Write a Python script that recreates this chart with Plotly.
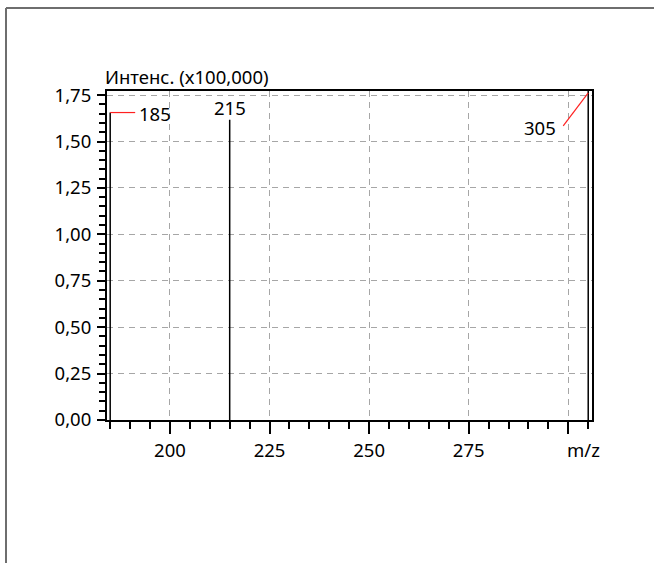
import plotly.graph_objects as go

# ---- data ----
peak_mz = [185, 215, 305]
peak_intensity = [1.656, 1.617, 1.78]   # x100,000
label_texts = ["185", "215", "305"]
x_tick_vals = [200, 225, 250, 275, 300]
x_tick_text = ["200", "225", "250", "275", ""]
y_tick_vals = [0.0, 0.25, 0.5, 0.75, 1.0, 1.25, 1.5, 1.75]
y_tick_text = ["0,00", "0,25", "0,50", "0,75", "1,00", "1,25", "1,50", "1,75"]
x_range = [184.2, 305.95]
y_range = [0, 1.772]

FONT = "Noto Sans"
FS = 18.5

xs, ys = [], []
for m, v in zip(peak_mz, peak_intensity):
    xs += [m, m, None]
    ys += [0, v, None]

fig = go.Figure()
fig.add_trace(go.Scatter(x=xs, y=ys, mode="lines",
                         line=dict(color="black", width=1.5),
                         hoverinfo="skip", showlegend=False))

W, H = 654, 563
L, R, T, B = 107, 62, 91, 143
pw, ph = W - L - R, H - T - B

# frame
fx0 = (6 - L) / pw
fy1 = (H - B - 8) / ph
fig.add_shape(type="line", xref="paper", yref="paper", x0=fx0, x1=fx0, y0=fy1, y1=-2,
              line=dict(color="#6e6e6e", width=2))
fig.add_shape(type="line", xref="paper", yref="paper", x0=fx0, x1=2, y0=fy1, y1=fy1,
              line=dict(color="#6e6e6e", width=2))

RED = "#ff2020"
# 185 label: horizontal red leader
fig.add_shape(type="line", xref="x", yref="y", xsizemode="pixel", ysizemode="pixel",
              xanchor=peak_mz[0], yanchor=peak_intensity[0], x0=0, x1=25, y0=0, y1=0,
              line=dict(color=RED, width=1.2))
fig.add_annotation(x=peak_mz[0], y=peak_intensity[0], text=label_texts[0],
                   showarrow=False, xanchor="left", yanchor="middle", xshift=27, yshift=-1,
                   font=dict(family=FONT, size=FS, color="black"))
# 215 label
fig.add_annotation(x=peak_mz[1], y=peak_intensity[1], text=label_texts[1],
                   showarrow=False, yanchor="bottom", yshift=-2,
                   font=dict(family=FONT, size=FS, color="black"))
# 305 label: diagonal red leader from the top of the clipped peak
y305 = y_range[1] - 0.01
fig.add_shape(type="line", xref="x", yref="y", xsizemode="pixel", ysizemode="pixel",
              xanchor=peak_mz[2], yanchor=y305, x0=0, x1=-25, y0=0, y1=-33,
              line=dict(color=RED, width=1.2))
fig.add_annotation(x=peak_mz[2], y=y305, text=label_texts[2],
                   showarrow=False, xanchor="right", yanchor="middle", xshift=-30, yshift=-35,
                   font=dict(family=FONT, size=FS, color="black"))

# axis titles
fig.add_annotation(xref="paper", yref="paper", x=0, y=1, xanchor="left", yanchor="bottom",
                   xshift=-4, yshift=0, text="Интенс. (x100,000)", showarrow=False,
                   font=dict(family=FONT, size=FS, color="black"))
fig.add_annotation(xref="x", yref="paper", x=300, y=0, xanchor="left", yanchor="middle",
                   xshift=-3, yshift=-29, text="m/z", showarrow=False,
                   font=dict(family=FONT, size=FS, color="black"))

grid = dict(showgrid=True, gridcolor="#a6a6a6", gridwidth=1, griddash="6px,5px")

fig.update_xaxes(range=x_range, tickvals=x_tick_vals, ticktext=x_tick_text,
                 ticks="outside", ticklen=12, tickwidth=1.5, tickcolor="black",
                 showline=True, linecolor="black", linewidth=2, mirror=True,
                 zeroline=False, ticklabelstandoff=1,
                 tickfont=dict(family=FONT, size=FS, color="black"),
                 minor=dict(dtick=5, tick0=185, ticks="outside", ticklen=7,
                            tickwidth=1.5, tickcolor="black", showgrid=False),
                 **grid)
fig.update_yaxes(range=y_range, tickvals=y_tick_vals, ticktext=y_tick_text,
                 ticks="outside", ticklen=8, tickwidth=1.5, tickcolor="black",
                 showline=True, linecolor="black", linewidth=2, mirror=True,
                 zeroline=False, ticklabelstandoff=2,
                 tickfont=dict(family=FONT, size=FS, color="black"),
                 minor=dict(dtick=0.05, tick0=0, ticks="outside", ticklen=6,
                            tickwidth=1.5, tickcolor="black", showgrid=False),
                 **grid)

fig.update_layout(width=W, height=H, margin=dict(l=L, r=R, t=T, b=B, autoexpand=False),
                  paper_bgcolor="white", plot_bgcolor="white",
                  font=dict(family=FONT, size=FS, color="black"))

fig.write_html("out.html")
